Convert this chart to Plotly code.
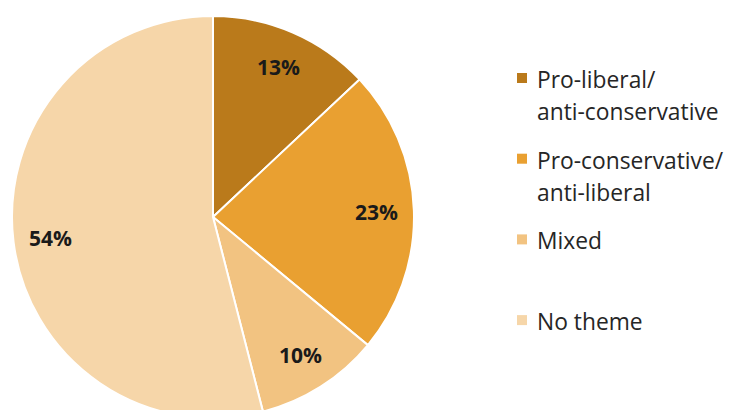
import math
import plotly.graph_objects as go

# Share of items by political theme
categories = ["Pro-liberal/anti-conservative", "Pro-conservative/anti-liberal", "Mixed", "No theme"]
legend_lines = [["Pro-liberal/", "anti-conservative"], ["Pro-conservative/", "anti-liberal"], ["Mixed"], ["No theme"]]
shares = [13, 23, 10, 54]
colors = ["#BA7A1B", "#E9A031", "#F2C381", "#F6D6A9"]

W, H = 733, 420
CX, CY, R = 213, 217, 201
FONT = "Open Sans"


def px(x):
    return x / W


def py(y):
    return 1 - y / H


fig = go.Figure(
    go.Pie(
        labels=categories,
        values=shares,
        marker=dict(colors=colors, line=dict(color="white", width=2)),
        sort=False,
        direction="clockwise",
        rotation=0,
        textinfo="none",
        hoverinfo="label+percent",
        domain=dict(x=[px(CX - R), px(CX + R)], y=[py(CY + R), py(CY - R)]),
    )
)

annotations = []
shapes = []

# Percentage labels placed along each slice's mid-angle
total = sum(shares)
cum = 0
for v in shares:
    mid = (cum + v / 2) / total * 2 * math.pi
    cum += v
    r = 0.815 * R
    x = CX + r * math.sin(mid)
    y = CY - r * math.cos(mid)
    annotations.append(dict(
        x=px(x), y=py(y), xref="paper", yref="paper", showarrow=False,
        text=f"<b>{round(v / total * 100)}%</b>", xanchor="center", yanchor="middle",
        font=dict(family=FONT, size=21, color="#1a1a1a"),
    ))

# Legend: square swatch plus one or two lines of text per category
LEG_X, LEG_Y0, LEG_STEP, LINE_STEP, SW = 517, 79, 80.7, 32, 10
for i, (lines, col) in enumerate(zip(legend_lines, colors)):
    y0 = LEG_Y0 + i * LEG_STEP
    shapes.append(dict(
        type="rect", xref="paper", yref="paper",
        x0=px(LEG_X), x1=px(LEG_X + SW), y0=py(y0 - 1 + SW / 2), y1=py(y0 - 1 - SW / 2),
        fillcolor=col, line=dict(width=0),
    ))
    for j, line in enumerate(lines):
        annotations.append(dict(
            x=px(LEG_X + 18), y=py(y0 + 0.5 + j * LINE_STEP), xref="paper", yref="paper",
            showarrow=False, text=line, xanchor="left", yanchor="middle",
            font=dict(family=FONT, size=22.8, color="#262626"),
        ))

fig.update_layout(
    width=W, height=H,
    margin=dict(l=0, r=0, t=0, b=0),
    paper_bgcolor="white", plot_bgcolor="white",
    showlegend=False,
    annotations=annotations,
    shapes=shapes,
)

fig.write_html(
    "out.html",
    post_script="document.documentElement.style.overflow='hidden';document.body.style.overflow='hidden';document.body.style.margin='0';",
)
